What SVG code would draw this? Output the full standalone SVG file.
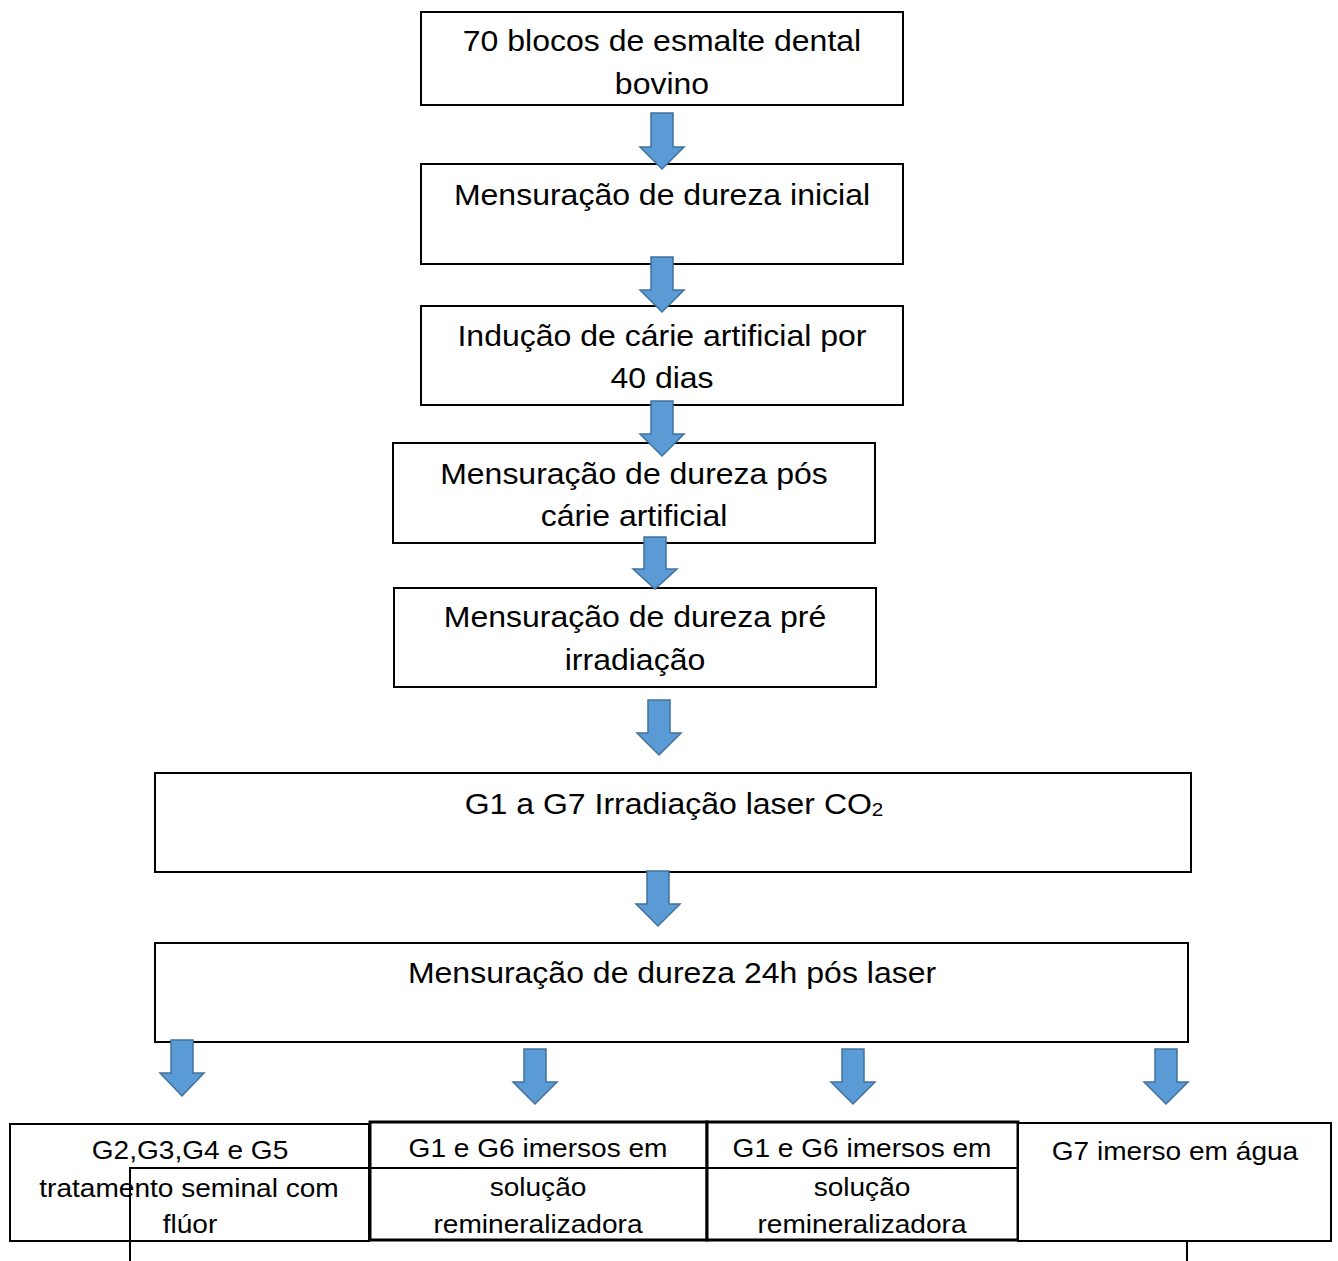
<svg xmlns="http://www.w3.org/2000/svg" width="1338" height="1261" viewBox="0 0 1338 1261">
<style>
.box{fill:#fff;stroke:#000;stroke-width:2}
.thick{fill:#fff;stroke:#000;stroke-width:3}
.ln{fill:none;stroke:#000;stroke-width:2}
.t{font-family:"Liberation Sans",Arial,sans-serif;font-size:29.5px;fill:#000;text-anchor:middle}
.s{font-family:"Liberation Sans",Arial,sans-serif;font-size:26px;fill:#000;text-anchor:middle}
.arr{fill:#5B9BD5;stroke:#41719C;stroke-width:1.5;stroke-linejoin:miter}
</style>
<rect width="1338" height="1261" fill="#fff"/>
<g id="n1">
<rect class="box" x="421" y="12" width="482" height="93"/>
<text class="t" transform="translate(662,51) scale(1.085,1)">70 blocos de esmalte dental</text>
<text class="t" transform="translate(662,94) scale(1.085,1)">bovino</text>
</g>
<g id="n2">
<rect class="box" x="421" y="164" width="482" height="100"/>
<text class="t" transform="translate(662,205) scale(1.085,1)">Mensuração de dureza inicial</text>
</g>
<g id="n3">
<rect class="box" x="421" y="306" width="482" height="99"/>
<text class="t" transform="translate(662,346) scale(1.085,1)">Indução de cárie artificial por</text>
<text class="t" transform="translate(662,388) scale(1.085,1)">40 dias</text>
</g>
<g id="n4">
<rect class="box" x="393" y="443" width="482" height="100"/>
<text class="t" transform="translate(634,484) scale(1.085,1)">Mensuração de dureza pós</text>
<text class="t" transform="translate(634,526) scale(1.085,1)">cárie artificial</text>
</g>
<g id="n5">
<rect class="box" x="394" y="588" width="482" height="99"/>
<text class="t" transform="translate(635,627) scale(1.085,1)">Mensuração de dureza pré</text>
<text class="t" transform="translate(635,670) scale(1.085,1)">irradiação</text>
</g>
<g id="n6">
<rect class="box" x="155" y="773" width="1036" height="99"/>
<text class="t" transform="translate(674,814) scale(1.085,1)">G1 a G7 Irradiação laser CO<tspan font-size="19" dy="2">2</tspan></text>
</g>
<g id="n7">
<rect class="box" x="155" y="943" width="1033" height="99"/>
<text class="t" transform="translate(672,983) scale(1.085,1)">Mensuração de dureza 24h pós laser</text>
</g>
<g id="n8">
<rect class="box" x="10" y="1124" width="359" height="117"/>
<text class="s" transform="translate(190,1159) scale(1.08,1)">G2,G3,G4 e G5</text>
<text class="s" transform="translate(189,1197) scale(1.08,1)">tratamento seminal com</text>
<text class="s" transform="translate(190,1233) scale(1.08,1)">flúor</text>
</g>
<g id="n9">
<rect class="thick" x="370" y="1122" width="337" height="118"/>
<text class="s" transform="translate(538,1157) scale(1.08,1)">G1 e G6 imersos em</text>
<text class="s" transform="translate(538,1196) scale(1.08,1)">solução</text>
<text class="s" transform="translate(538,1233) scale(1.08,1)">remineralizadora</text>
</g>
<g id="n10">
<rect class="thick" x="707" y="1122" width="311" height="118"/>
<text class="s" transform="translate(862,1157) scale(1.08,1)">G1 e G6 imersos em</text>
<text class="s" transform="translate(862,1196) scale(1.08,1)">solução</text>
<text class="s" transform="translate(862,1233) scale(1.08,1)">remineralizadora</text>
</g>
<g id="frame">
<path class="ln" d="M130,1275 V1168 H1187 V1275"/>
</g>
<g id="n11">
<rect class="box" x="1018" y="1123" width="313" height="118"/>
<text class="s" transform="translate(1175,1160) scale(1.08,1)">G7 imerso em água</text>
</g>
<g id="connectors">
<path class="arr" d="M651,113 H673 V147 H684 L662,169 L640,147 H651 Z"/>
<path class="arr" d="M651,257 H673 V290 H684 L662,312 L640,290 H651 Z"/>
<path class="arr" d="M651,401 H673 V434 H684 L662,456 L640,434 H651 Z"/>
<path class="arr" d="M644,537 H666 V569 H677 L655,589 L633,569 H644 Z"/>
<path class="arr" d="M648,700 H670 V733 H681 L659,755 L637,733 H648 Z"/>
<path class="arr" d="M647,871 H669 V904 H680 L658,926 L636,904 H647 Z"/>
<path class="arr" d="M171,1040 H193 V1073 H204 L182,1096 L160,1073 H171 Z"/>
<path class="arr" d="M524,1049 H546 V1082 H557 L535,1104 L513,1082 H524 Z"/>
<path class="arr" d="M842,1049 H864 V1082 H875 L853,1104 L831,1082 H842 Z"/>
<path class="arr" d="M1155,1049 H1177 V1082 H1188 L1166,1104 L1144,1082 H1155 Z"/>
</g>
</svg>
